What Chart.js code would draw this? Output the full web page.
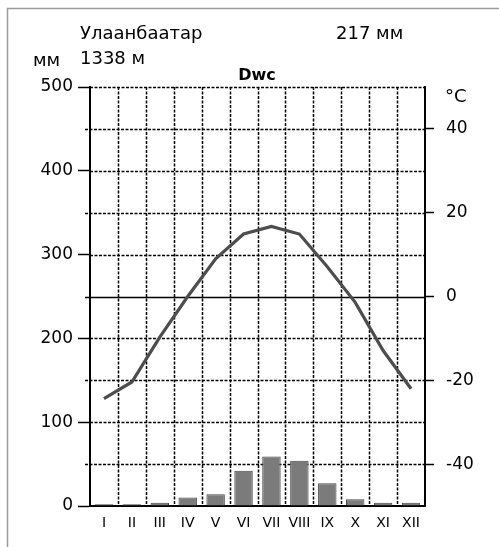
<!DOCTYPE html>
<html>
<head>
<meta charset="utf-8">
<script src="https://cdn.jsdelivr.net/npm/chart.js@4/dist/chart.umd.min.js"></script>
<style>
  html, body { margin: 0; padding: 0; background: #fff; }
  canvas { display: block; }
</style>
</head>
<body>
<canvas id="c" width="499" height="547"></canvas>
<script>
// ---- data ----
const months = ['I','II','III','IV','V','VI','VII','VIII','IX','X','XI','XII'];
const precipitation = [2, 2, 4, 10, 14, 42, 59, 54, 27, 8, 4, 4];          // mm
const temperature = [-24.4, -20.4, -9.7, 0.0, 9.0, 14.9, 16.7, 14.9, 7.1, -1.4, -12.9, -22.0]; // °C
const precipTicks = [0, 100, 200, 300, 400, 500];
const tempTicks = [-40, -20, 0, 20, 40];
const station = 'Улаанбаатар';
const elevation = '1338 м';
const annualPrecip = '217 мм';
const climateCode = 'Dwc';

const FONT = '"DejaVu Sans", "Liberation Sans", Arial, sans-serif';

const decor = {
  id: 'decor',
  beforeDatasetsDraw(chart) {
    const ctx = chart.ctx;
    const y = chart.scales.y, x = chart.scales.x;
    const L = chart.chartArea.left, R = chart.chartArea.right;
    const T = chart.chartArea.top, B = chart.chartArea.bottom;
    ctx.save();
    ctx.strokeStyle = '#000';
    // horizontal grid every 50 mm
    for (let v = 50; v <= 500; v += 50) {
      const py = Math.round(y.getPixelForValue(v)) + 0.5;
      ctx.lineWidth = 1.5;
      if (v === 250) { ctx.setLineDash([]); ctx.lineWidth = 1.5; }
      else ctx.setLineDash([3, 1.5]);
      ctx.beginPath();
      const ext = (v % 100 !== 0) ? 5 : 0;
      const extR = (precipTicks.indexOf(v) < 0 && tempTicks.indexOf(v / 5 - 50) < 0) ? 6 : 0;
      ctx.moveTo(L - ext, py);
      ctx.lineTo(R + extR, py);
      ctx.stroke();
    }
    // vertical grid at month boundaries
    ctx.setLineDash([3, 1.5]);
    ctx.lineWidth = 1.5;
    for (let i = 0; i < months.length - 1; i++) {
      const px = Math.round((x.getPixelForValue(i) + x.getPixelForValue(i + 1)) / 2) + 0.5;
      ctx.beginPath();
      ctx.moveTo(px, T);
      ctx.lineTo(px, B);
      ctx.stroke();
    }
    ctx.restore();
  },
  afterDraw(chart) {
    const ctx = chart.ctx;
    ctx.save();
    // frame (top and left)
    ctx.strokeStyle = '#9a9a9a';
    ctx.lineWidth = 1.5;
    ctx.beginPath();
    ctx.moveTo(7.5, 547);
    ctx.lineTo(7.5, 8.5);
    ctx.lineTo(499, 8.5);
    ctx.stroke();
    // texts
    ctx.fillStyle = '#000';
    ctx.textBaseline = 'alphabetic';
    ctx.textAlign = 'left';
    ctx.font = '18px ' + FONT;
    ctx.fillText(station, 80, 39);
    ctx.fillText(annualPrecip, 336, 39);
    ctx.fillText(elevation, 80, 64);
    ctx.fillText('мм', 33, 66);
    ctx.fillText('°C', 445, 102);
    ctx.font = 'bold 16px ' + FONT;
    ctx.textAlign = 'center';
    ctx.fillText(climateCode, 257, 80);
    ctx.restore();
  }
};

new Chart(document.getElementById('c'), {
  data: {
    labels: months,
    datasets: [
      {
        type: 'line',
        data: temperature,
        yAxisID: 'y2',
        borderColor: '#4d4d4d',
        borderWidth: 3.2,
        pointRadius: 0,
        tension: 0,
        order: 0
      },
      {
        type: 'bar',
        data: precipitation,
        yAxisID: 'y',
        backgroundColor: '#7b7b7b',
        borderColor: '#474747',
        borderWidth: 1,
        barPercentage: 0.66,
        categoryPercentage: 1,
        order: 1
      }
    ]
  },
  options: {
    responsive: false,
    animation: false,
    devicePixelRatio: 1,
    layout: { padding: { top: 87, left: 0, right: 0, bottom: 0 } },
    plugins: { legend: { display: false }, tooltip: { enabled: false }, title: { display: false } },
    scales: {
      x: {
        type: 'category',
        offset: true,
        grid: { display: false, drawTicks: false },
        border: { display: true, color: '#000', width: 2 },
        ticks: { color: '#000', font: { family: FONT, size: 14 }, padding: 9, maxRotation: 0, autoSkip: false },
        afterFit(s) { s.height = 41; }
      },
      y: {
        type: 'linear',
        position: 'left',
        min: 0, max: 500,
        afterBuildTicks(s) { s.ticks = precipTicks.map(v => ({ value: v })); },
        grid: { drawOnChartArea: false, drawTicks: true, tickLength: 12, tickColor: '#000', tickWidth: 1.5 },
        border: { display: true, color: '#000', width: 2 },
        ticks: { color: '#000', font: { family: FONT, size: 17 }, padding: 5 },
        afterFit(s) { s.width = 90; }
      },
      y2: {
        type: 'linear',
        position: 'right',
        min: -50, max: 50,
        afterBuildTicks(s) { s.ticks = tempTicks.map(v => ({ value: v })); },
        grid: { drawOnChartArea: false, drawTicks: true, tickLength: 9, tickColor: '#000', tickWidth: 1.5 },
        border: { display: true, color: '#000', width: 2 },
        ticks: { color: '#000', font: { family: FONT, size: 17 }, padding: 12 },
        afterFit(s) { s.width = 74; }
      }
    }
  },
  plugins: [decor]
});
</script>
</body>
</html>
